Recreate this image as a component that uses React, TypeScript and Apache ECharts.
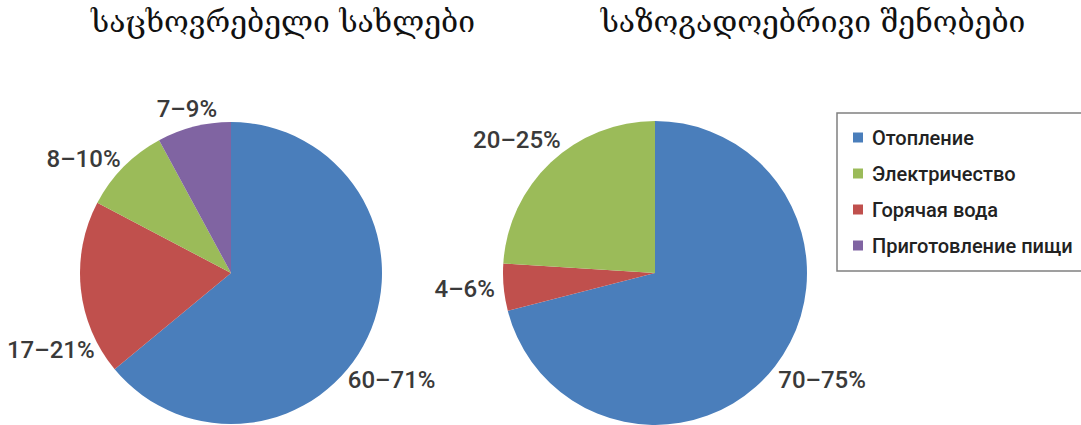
import React, { useEffect, useRef } from "react";
import * as echarts from "echarts";

const legendOrder = ["Отопление", "Электричество", "Горячая вода", "Приготовление пищи"];
const colorByName: Record<string, string> = {
  "Отопление": "#4A7EBB",
  "Электричество": "#9BBB59",
  "Горячая вода": "#C0504D",
  "Приготовление пищи": "#8064A2",
};

const leftTitle = "საცხოვრებელი სახლები";
const rightTitle = "საზოგადოებრივი შენობები";

const leftNames = ["Отопление", "Горячая вода", "Электричество", "Приготовление пищи"];
const leftValues = [64, 18.7, 9.4, 7.9];
const leftLabels = ["60–71%", "17–21%", "8–10%", "7–9%"];
const leftLabelShift: [number, number][] = [[24, 43], [-30, 61], [-40, -8], [-7, -18]];

const rightNames = ["Отопление", "Горячая вода", "Электричество"];
const rightValues = [71, 5, 24];
const rightLabels = ["70–75%", "4–6%", "20–25%"];
const rightLabelShift: [number, number][] = [[47, 14], [-39, 2], [-34, -22]];

const labelFont = "Roboto, 'Noto Sans', sans-serif";
const titleFont = "'DejaVu Serif', 'DejaVu Sans', serif";

function makeSeries(
  names: string[],
  values: number[],
  labels: string[],
  shifts: [number, number][],
  center: [number, number],
  radius: number
) {
  return {
    type: "pie",
    center,
    radius,
    startAngle: 90,
    clockwise: true,
    avoidLabelOverlap: false,
    data: names.map((n, i) => ({
      name: n,
      value: values[i],
      itemStyle: { color: colorByName[n] },
    })),
    label: {
      show: true,
      position: "outside",
      distanceToLabelLine: 0,
      formatter: (p: any) => labels[p.dataIndex],
      fontFamily: labelFont,
      fontSize: 24,
      fontWeight: 500,
      color: "#3a3a3a",
    },
    labelLine: { show: false, length: 0, length2: 0 },
    labelLayout: (p: any) => ({
      align: "center",
      verticalAlign: "middle",
      dx: shifts[p.dataIndex][0],
      dy: shifts[p.dataIndex][1],
    }),
    emphasis: { disabled: true },
  };
}

export default function App() {
  const ref = useRef<HTMLDivElement>(null);
  useEffect(() => {
    document.body.style.margin = "0";
    if (!ref.current) return;
    const chart = echarts.init(ref.current, null, { renderer: "svg" });
    chart.setOption({
      animation: false,
      backgroundColor: "#ffffff",
      title: [
        {
          text: leftTitle,
          left: 278,
          top: 1,
          textAlign: "center",
          textStyle: { fontFamily: titleFont, fontSize: 30, fontWeight: "normal", color: "#111111" },
        },
        {
          text: rightTitle,
          left: 808,
          top: 1,
          textAlign: "center",
          textStyle: { fontFamily: titleFont, fontSize: 30, fontWeight: "normal", color: "#111111" },
        },
      ],
      graphic: [
        {
          type: "rect",
          silent: true,
          shape: { x: 837, y: 113, width: 270, height: 158 },
          style: { fill: "none", stroke: "#808080", lineWidth: 1.5 },
        },
      ],
      legend: {
        data: legendOrder,
        orient: "vertical",
        left: 837,
        top: 113,
        itemWidth: 10,
        itemHeight: 10,
        itemGap: 13,
        icon: "rect",
        padding: [13, 10, 14, 16],
        selectedMode: false,
        textStyle: { fontFamily: labelFont, fontSize: 20, fontWeight: 500, color: "#222222", padding: [0, 0, 0, 4], lineHeight: 23 },
      },
      series: [
        makeSeries(leftNames, leftValues, leftLabels, leftLabelShift, [231, 273], 151),
        makeSeries(rightNames, rightValues, rightLabels, rightLabelShift, [655, 273], 152),
      ],
    });
    return () => chart.dispose();
  }, []);
  return <div ref={ref} style={{ width: 1081, height: 425 }} />;
}
